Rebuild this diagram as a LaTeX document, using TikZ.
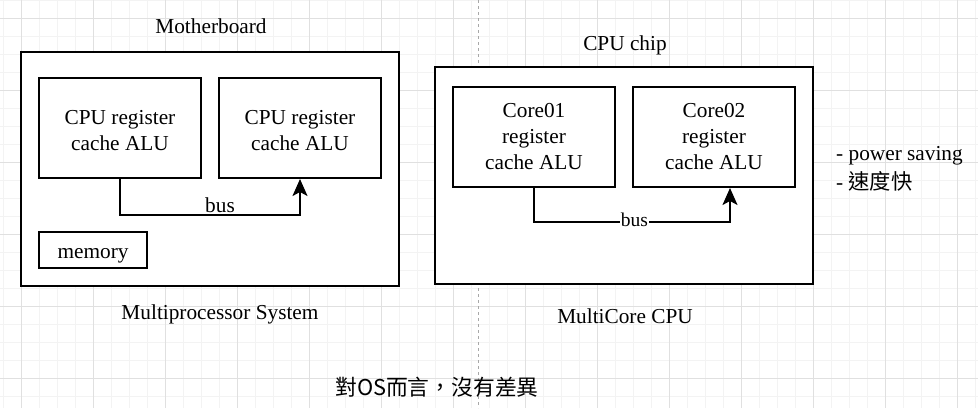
\documentclass[tikz,border=0pt]{standalone}
\usepackage{fontspec}
\setmainfont{Liberation Serif}
\newfontfamily\cjk{Noto Sans CJK TC}
\usetikzlibrary{arrows.meta}
\definecolor{gmajor}{HTML}{E0E0E0}
\definecolor{gminor}{HTML}{F3F3F3}
\definecolor{dashc}{HTML}{A8A8A8}
\newcommand\dfont{\fontsize{21.3}{26}\selectfont}
\newcommand\sfont{\fontsize{19.5}{23}\selectfont}
\begin{document}
\begin{tikzpicture}[x=1pt,y=-1pt,
  box/.style={draw=black,line width=2pt,fill=white,inner sep=0pt,align=center,font=\dfont},
  lbl/.style={inner sep=0pt,font=\dfont},
  busline/.style={draw=black,line width=1.9pt,-{Stealth[length=17pt,width=15pt,inset=4pt]}},
  gridminor/.style={draw=gminor,line width=0.8pt},
  gridmajor/.style={draw=gmajor,line width=0.9pt}]
\useasboundingbox[fill=white] (0,0) rectangle (978,408);
% grid
\foreach \x in {3.3,21.3,...,978} \draw[gridminor] (\x,0) -- (\x,408);
\foreach \y in {0.3,18.3,...,408} \draw[gridminor] (0,\y) -- (978,\y);
\foreach \x in {21.3,93.3,...,978} \draw[gridmajor] (\x,0) -- (\x,408);
\foreach \y in {18.3,90.3,...,408} \draw[gridmajor] (0,\y) -- (978,\y);
% dashed separator
\coordinate (sepTop) at (478.5,0);
\coordinate (sepBot) at (478.5,408);
\draw[dashc,line width=0.9pt,dash pattern=on 3pt off 3pt] (sepTop) -- (sepBot);
% left: multiprocessor
\node[box,minimum width=378pt,minimum height=234pt] (mb) at (210,169) {};
\node[lbl] (mbt) at (211,26) {Motherboard};
\node[box,minimum width=162pt,minimum height=100pt] (c1) at (120,128) {\rule{0pt}{20pt}CPU register\\cache ALU};
\node[box,minimum width=162pt,minimum height=100pt] (c2) at (300,128) {\rule{0pt}{20pt}CPU register\\cache ALU};
\node[box,minimum width=108pt,minimum height=36pt,text height=20pt,text depth=4pt] (mem) at (93,250) {memory};
\draw[busline] (c1.south) -- ++(0,36) -| (c2.south);
\node[lbl] (bus1) at (220,205) {bus};
\node[lbl] (mps) at (220,314) {Multiprocessor System};
% right: multicore
\node[box,minimum width=378pt,minimum height=217pt] (chip) at (624,175.5) {};
\node[lbl] (chipt) at (625,45) {CPU chip};
\node[box,minimum width=162pt,minimum height=100pt] (k1) at (534,137) {Core01\\register\\cache ALU};
\node[box,minimum width=162pt,minimum height=100pt] (k2) at (714,137) {Core02\\register\\cache ALU};
\draw[busline] (k1.south) -- ++(0,34) -| ([xshift=16pt]k2.south);
\node[inner sep=1pt,fill=white,font=\sfont] (bus2) at (634.5,220) {bus};
\node[lbl] (mcc) at (625,316) {MultiCore CPU};
% notes
\node[lbl,anchor=west] (n1) at (836,156) {- power saving};
\node[lbl,anchor=west] (n2) at (836,181) {- {\cjk 速度快}};
\node[lbl,anchor=west,font=\cjk\fontsize{21.8}{25}\selectfont] (os) at (335,387) {對OS而言，沒有差異};
\end{tikzpicture}
\end{document}
